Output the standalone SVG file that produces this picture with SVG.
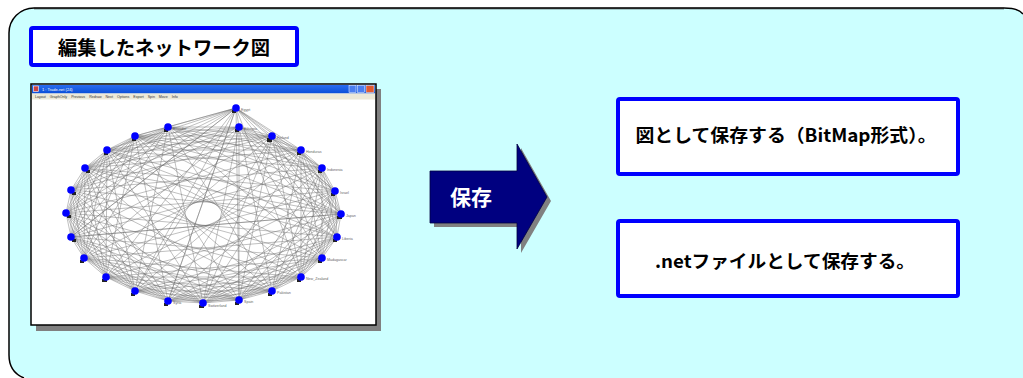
<svg xmlns="http://www.w3.org/2000/svg" width="1023" height="378" viewBox="0 0 1023 378" style="overflow:hidden">
<defs>
<clipPath id="cv"><rect x="0" y="0" width="1023" height="378"/></clipPath>
<linearGradient id="tb" x1="0" y1="0" x2="0" y2="1"><stop offset="0" stop-color="#2a6cf0"/><stop offset="1" stop-color="#0a4fd8"/></linearGradient>
<style>
.jp{font-family:"Noto Sans CJK JP","Noto Sans",sans-serif;font-weight:bold}
.box{fill:#fff;stroke:#0000ff;stroke-width:4}
.edge{fill:none;stroke:#6a6a6a;stroke-width:0.5;stroke-opacity:0.85}
.nd{fill:#0000ff}
.mk{fill:#222}
.lb{font-family:"Liberation Sans",sans-serif;font-size:3.6px;fill:#666}
.tiny{font-family:"Liberation Sans",sans-serif;font-size:4px;fill:#333}
</style>
</defs>
<g id="panel" clip-path="url(#cv)">
<path d="M9,33 A25,25 0 0 1 34,8 L1004,8 Q1018,8 1023,14 L1023,378 L27,378 Q9,372 9,355 Z" fill="#ccffff"/>
<path d="M9,33 A25,25 0 0 1 34,8 L1004,8 Q1018,8 1023,14 M9,33 L9,355 Q9,372 24,378" fill="none" stroke="#000" stroke-width="1.5"/>
<path d="M34,8.5 L1004,8.5" stroke="#222" stroke-width="1.5" fill="none"/>
</g>
<g id="title">
<rect class="box" x="31" y="28" width="266" height="37" rx="2"/>
<text class="jp" x="164" y="55" font-size="19.5" text-anchor="middle" fill="#000" textLength="212" lengthAdjust="spacingAndGlyphs">編集したネットワーク図</text>
</g>
<g id="screenshot">
<rect x="36" y="89" width="345" height="242" fill="#808080"/>
<rect x="31" y="84" width="345" height="241" fill="#fff" stroke="#000" stroke-width="1.5"/>
<rect x="32" y="85" width="343" height="8.5" fill="url(#tb)"/>
<rect x="33.5" y="86" width="5" height="5.5" fill="#c44" stroke="#fff" stroke-width="0.6"/>
<text class="tiny" x="42" y="91" style="fill:#fff">1 : Trade.net (24)</text>
<rect x="349" y="85.5" width="7" height="7" fill="#4a7ef0" stroke="#fff" stroke-width="0.5"/>
<rect x="357.5" y="85.5" width="7" height="7" fill="#4a7ef0" stroke="#fff" stroke-width="0.5"/>
<rect x="366" y="85.5" width="8" height="7" fill="#e05a30" stroke="#fff" stroke-width="0.5"/>
<rect x="32" y="93.5" width="343" height="6" fill="#ece9d8"/>
<text class="tiny" x="35" y="98.2" style="font-size:3.6px" word-spacing="3">Layout GraphOnly Previous Redraw Next Options Export Spin Move Info</text>
<g id="edges">
<path class="edge" d="M236,108 L239,127 L272,136 L301,150 L322,168 L335,191 L341,214 L337,237 L322,258 L301,277 L272,291 L239,300 L203,303 L168,301 L135,291 L106,277 L84,258 L71,237 L66,213 L71,190 L85,168 L107,150 L135,136 L168,127 Z"/>
<path class="edge" d="M236,108 L335,191 L272,291 L106,277 L85,168 L239,127 L341,214 L239,300 L84,258 L107,150 L272,136 L337,237 L203,303 L71,237 L135,136 L301,150 L322,258 L168,301 L66,213 L168,127 L322,168 L301,277 L135,291 L71,190 Z"/>
<path class="edge" d="M236,108 L337,237 L135,291 L107,150 L322,168 L239,300 L66,213 L239,127 L322,258 L106,277 L135,136 L335,191 L203,303 L71,190 L272,136 L301,277 L84,258 L168,127 L341,214 L168,301 L85,168 L301,150 L272,291 L71,237 Z"/>
<path class="edge" d="M236,108 L239,300 L135,136 L301,277 L85,168 L337,237 L66,213 L335,191 L84,258 L301,150 L135,291 L239,127 L203,303 L168,127 L272,291 L107,150 L322,258 L71,190 L341,214 L71,237 L322,168 L106,277 L272,136 L168,301 Z"/>
<path class="edge" d="M236,108 L272,136 L322,168 L341,214 L322,258 L272,291 L203,303 L135,291 L84,258 L66,213 L85,168 L135,136 Z M239,127 L301,150 L335,191 L337,237 L301,277 L239,300 L168,301 L106,277 L71,237 L71,190 L107,150 L168,127 Z"/>
<path class="edge" d="M236,108 L301,150 L341,214 L301,277 L203,303 L106,277 L66,213 L107,150 Z M239,127 L322,168 L337,237 L272,291 L168,301 L84,258 L71,190 L135,136 Z M272,136 L335,191 L322,258 L239,300 L135,291 L71,237 L85,168 L168,127 Z"/>
<path class="edge" d="M236,108 L301,277 L66,213 L301,150 L203,303 L107,150 L341,214 L106,277 Z M239,127 L272,291 L71,190 L322,168 L168,301 L135,136 L337,237 L84,258 Z M272,136 L239,300 L85,168 L335,191 L135,291 L168,127 L322,258 L71,237 Z"/>
<path class="edge" d="M236,108 L322,168 L322,258 L203,303 L84,258 L85,168 Z M239,127 L335,191 L301,277 L168,301 L71,237 L107,150 Z M272,136 L341,214 L272,291 L135,291 L66,213 L135,136 Z M301,150 L337,237 L239,300 L106,277 L71,190 L168,127 Z"/>
<path class="edge" d="M236,108 L341,214 L203,303 L66,213 Z M239,127 L337,237 L168,301 L71,190 Z M272,136 L322,258 L135,291 L85,168 Z M301,150 L301,277 L106,277 L107,150 Z M322,168 L272,291 L84,258 L135,136 Z M335,191 L239,300 L71,237 L168,127 Z"/>
<path class="edge" d="M239,127 L239,300 M236,108 L168,301 M236,108 L135,291 M236,108 L71,237 M272,136 L203,303 M135,136 L341,214 M85,168 L341,214 M71,237 L341,214 M107,150 L337,237"/>
</g>
<g id="graph-nodes">
<g class="mk">
<rect x="232" y="110" width="4" height="3"/><rect x="235" y="129" width="4" height="3"/><rect x="267" y="138" width="5" height="4"/><rect x="297" y="152" width="4" height="3"/><rect x="318" y="170" width="4" height="3"/><rect x="331" y="193" width="4" height="3"/><rect x="337" y="216" width="5" height="3"/><rect x="333" y="239" width="4" height="3"/><rect x="318" y="260" width="4" height="3"/><rect x="297" y="279" width="4" height="3"/><rect x="268" y="293" width="4" height="3"/><rect x="235" y="302" width="4" height="3"/><rect x="199" y="305" width="5" height="3"/><rect x="164" y="303" width="4" height="3"/><rect x="131" y="293" width="4" height="3"/><rect x="102" y="279" width="5" height="3"/><rect x="80" y="260" width="4" height="3"/><rect x="72" y="239" width="4" height="3"/><rect x="67" y="215" width="4" height="3"/><rect x="72" y="192" width="4" height="3"/><rect x="86" y="170" width="4" height="3"/><rect x="104" y="152" width="4" height="3"/><rect x="132" y="138" width="4" height="3"/><rect x="164" y="129" width="4" height="3"/>
</g>
<circle class="nd" cx="236" cy="108" r="3.8"/><circle class="nd" cx="239" cy="127" r="3.8"/><circle class="nd" cx="272" cy="136" r="3.8"/><circle class="nd" cx="301" cy="150" r="3.8"/><circle class="nd" cx="322" cy="168" r="3.8"/><circle class="nd" cx="335" cy="191" r="3.8"/><circle class="nd" cx="341" cy="214" r="3.8"/><circle class="nd" cx="337" cy="237" r="3.8"/><circle class="nd" cx="322" cy="258" r="3.8"/><circle class="nd" cx="301" cy="277" r="3.8"/><circle class="nd" cx="272" cy="291" r="3.8"/><circle class="nd" cx="239" cy="300" r="3.8"/><circle class="nd" cx="203" cy="303" r="3.8"/><circle class="nd" cx="168" cy="301" r="3.8"/><circle class="nd" cx="135" cy="291" r="3.8"/><circle class="nd" cx="106" cy="277" r="3.8"/><circle class="nd" cx="84" cy="258" r="3.8"/><circle class="nd" cx="71" cy="237" r="3.8"/><circle class="nd" cx="66" cy="213" r="3.8"/><circle class="nd" cx="71" cy="190" r="3.8"/><circle class="nd" cx="85" cy="168" r="3.8"/><circle class="nd" cx="107" cy="150" r="3.8"/><circle class="nd" cx="135" cy="136" r="3.8"/><circle class="nd" cx="168" cy="127" r="3.8"/>
<text class="lb" x="241" y="111">Egypt</text><text class="lb" x="244" y="130">Ethiopia</text><text class="lb" x="277" y="139">Finland</text><text class="lb" x="306" y="153">Honduras</text><text class="lb" x="327" y="171">Indonesia</text><text class="lb" x="340" y="194">Israel</text><text class="lb" x="346" y="217">Japan</text><text class="lb" x="342" y="240">Liberia</text><text class="lb" x="327" y="261">Madagascar</text><text class="lb" x="306" y="280">New_Zealand</text><text class="lb" x="277" y="294">Pakistan</text><text class="lb" x="244" y="303">Spain</text><text class="lb" x="208" y="307">Switzerland</text><text class="lb" x="173" y="304">Syria</text><text class="lb" x="173" y="130">Ecuador</text>
</g>
</g>
<g id="arrow">
<path d="M434,175 L521,175 L521,148 L551,201 L521,253 L521,227 L434,227 Z" fill="#808080"/>
<path d="M430,171 L517,171 L517,144 L547,197 L517,249 L517,223 L430,223 Z" fill="#000080" stroke="#000040" stroke-width="0.8"/>
<text class="jp" x="471" y="205" font-size="21" text-anchor="middle" fill="#fff">保存</text>
</g>
<g id="save-bitmap">
<rect class="box" x="618" y="99" width="340" height="75" rx="2"/>
<text class="jp" x="786" y="142" font-size="18" text-anchor="middle" fill="#000" textLength="301" lengthAdjust="spacingAndGlyphs">図として保存する（BitMap形式）。</text>
</g>
<g id="save-net">
<rect class="box" x="618" y="221" width="340" height="75" rx="2"/>
<text class="jp" x="785" y="268" font-size="18" text-anchor="middle" fill="#000" textLength="260" lengthAdjust="spacingAndGlyphs">.netファイルとして保存する。</text>
</g>
</svg>
